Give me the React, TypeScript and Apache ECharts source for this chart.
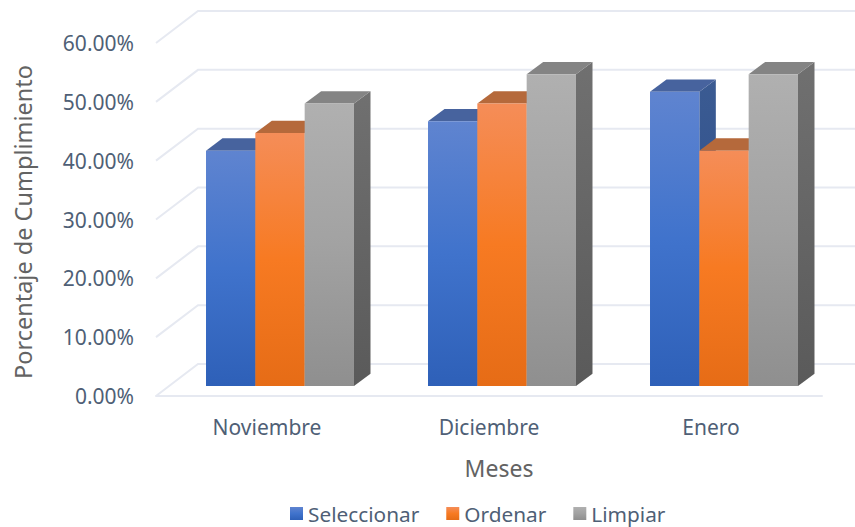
import React, { useEffect, useRef } from "react";
import * as echarts from "echarts";

const months = ["Noviembre", "Diciembre", "Enero"];
const seleccionar = [40, 45, 50];
const ordenar = [43, 48, 40];
const limpiar = [48, 53, 53];
const wallTicks = [0, 10, 20, 30, 40, 50, 60];

const FONT = "'Noto Sans', sans-serif";
const INK = "#4f5f76";
const GREY_INK = "#636363";
const WALL = "#e6e9f1";

// Pseudo-3D projection: offset from the front plane to the back wall, and where bars sit inside it.
const WALL_DX = 42;
const WALL_DY = -32;
const BAR_FRONT_DX = 13;
const BAR_FRONT_DY = -10;
const BAR_DEPTH_DX = 16.5;
const BAR_DEPTH_DY = -12.3;
const BAR_BAND_SHARE = 0.2222;

const vertical = (stops: [number, string][]) =>
  new echarts.graphic.LinearGradient(
    0, 0, 0, 1,
    stops.map(([offset, color]) => ({ offset, color }))
  );

const palettes = [
  {
    front: [[0, "#5f84d0"], [0.5, "#4073cc"], [1, "#2e60b8"]] as [number, string][],
    top: "#47639e",
    side: [[0, "#3b5b92"], [1, "#27498a"]] as [number, string][],
  },
  {
    front: [[0, "#f58d58"], [0.5, "#f77a22"], [1, "#e66c16"]] as [number, string][],
    top: "#b5693b",
    side: [[0, "#a85f33"], [1, "#93500f"]] as [number, string][],
  },
  {
    front: [[0, "#b0b0b0"], [0.5, "#a2a2a2"], [1, "#8f8f8f"]] as [number, string][],
    top: "#848484",
    side: [[0, "#707070"], [1, "#5a5a5a"]] as [number, string][],
  },
];

function barSeries(name: string, values: number[], slot: number) {
  const colors = palettes[slot];
  return {
    type: "custom",
    name,
    z: 3,
    silent: true,
    itemStyle: { color: vertical(colors.front) },
    data: values.map((v, i) => [i, v]),
    encode: { x: 0, y: 1 },
    renderItem: (_: unknown, api: any) => {
      const base = api.coord([api.value(0), 0]);
      const head = api.coord([api.value(0), api.value(1)]);
      const w = api.size([1, 0])[0] * BAR_BAND_SHARE;
      const x0 = base[0] + BAR_FRONT_DX + (slot - 1.5) * w;
      const x1 = x0 + w;
      const y0 = head[1] + BAR_FRONT_DY;
      const y1 = base[1] + BAR_FRONT_DY;
      const dx = BAR_DEPTH_DX;
      const dy = BAR_DEPTH_DY;
      return {
        type: "group",
        children: [
          {
            type: "polygon",
            shape: { points: [[x1, y0], [x1 + dx, y0 + dy], [x1 + dx, y1 + dy], [x1, y1]] },
            style: { fill: vertical(colors.side) },
          },
          {
            type: "polygon",
            shape: { points: [[x0, y0], [x0 + dx, y0 + dy], [x1 + dx, y0 + dy], [x1, y0]] },
            style: { fill: colors.top },
          },
          {
            type: "polygon",
            shape: { points: [[x0, y0], [x1, y0], [x1, y1], [x0, y1]] },
            style: { fill: vertical(colors.front) },
          },
        ],
      };
    },
  };
}

// Gridlines run along the left wall from the front plane, then across the back wall.
const wallSeries = {
  type: "custom",
  name: "wall",
  z: 1,
  silent: true,
  data: wallTicks.map((v) => [v]),
  encode: { y: 0 },
  renderItem: (params: any, api: any) => {
    const p = api.coord([0, api.value(0)]);
    const left = params.coordSys.x;
    const right = left + params.coordSys.width;
    return {
      type: "polyline",
      shape: {
        points: [
          [left, p[1]],
          [left + WALL_DX, p[1] + WALL_DY],
          [right + WALL_DX, p[1] + WALL_DY],
        ],
      },
      style: { stroke: WALL, lineWidth: 2, fill: "none" },
    };
  },
};

export default function App() {
  const ref = useRef<HTMLDivElement>(null);

  useEffect(() => {
    const chart = echarts.init(ref.current!, null, { renderer: "svg" });
    chart.setOption({
      animation: false,
      backgroundColor: "#ffffff",
      grid: { left: 156, right: 33, top: 43, bottom: 131, containLabel: false, outerBoundsMode: "none" },
      xAxis: {
        type: "category",
        data: months,
        name: "Meses",
        nameLocation: "middle",
        nameGap: 60,
        nameTextStyle: { fontFamily: FONT, fontSize: 23, color: GREY_INK, padding: [0, 0, 0, 20] },
        axisTick: { show: false },
        axisLine: { lineStyle: { color: WALL, width: 2 } },
        axisLabel: { fontFamily: FONT, fontSize: 21, color: INK, margin: 20 },
      },
      yAxis: {
        type: "value",
        min: 0,
        max: 60,
        interval: 10,
        name: "Porcentaje de Cumplimiento",
        nameLocation: "middle",
        nameGap: 121,
        nameTextStyle: { fontFamily: FONT, fontSize: 23.5, color: GREY_INK, padding: [0, 5, 0, 0] },
        axisLine: { show: false },
        axisTick: { show: false },
        splitLine: { show: false },
        axisLabel: {
          fontFamily: FONT,
          fontSize: 21,
          color: INK,
          margin: 22,
          formatter: (v: number) => v.toFixed(2) + "%",
        },
      },
      legend: {
        left: 290,
        top: 503,
        padding: 0,
        icon: "rect",
        itemWidth: 13,
        itemHeight: 13,
        itemGap: 27,
        textStyle: { fontFamily: FONT, fontSize: 20.8, color: INK },
        data: ["Seleccionar", "Ordenar", "Limpiar"].map((name, i) => ({
          name,
          itemStyle: { color: vertical(palettes[i].front) },
        })),
      },
      series: [
        wallSeries,
        barSeries("Seleccionar", seleccionar, 0),
        barSeries("Ordenar", ordenar, 1),
        barSeries("Limpiar", limpiar, 2),
      ],
    });
    return () => chart.dispose();
  }, []);

  return (
    <div
      ref={ref}
      style={{ position: "fixed", left: 0, top: 0, width: 855, height: 527 }}
    />
  );
}
